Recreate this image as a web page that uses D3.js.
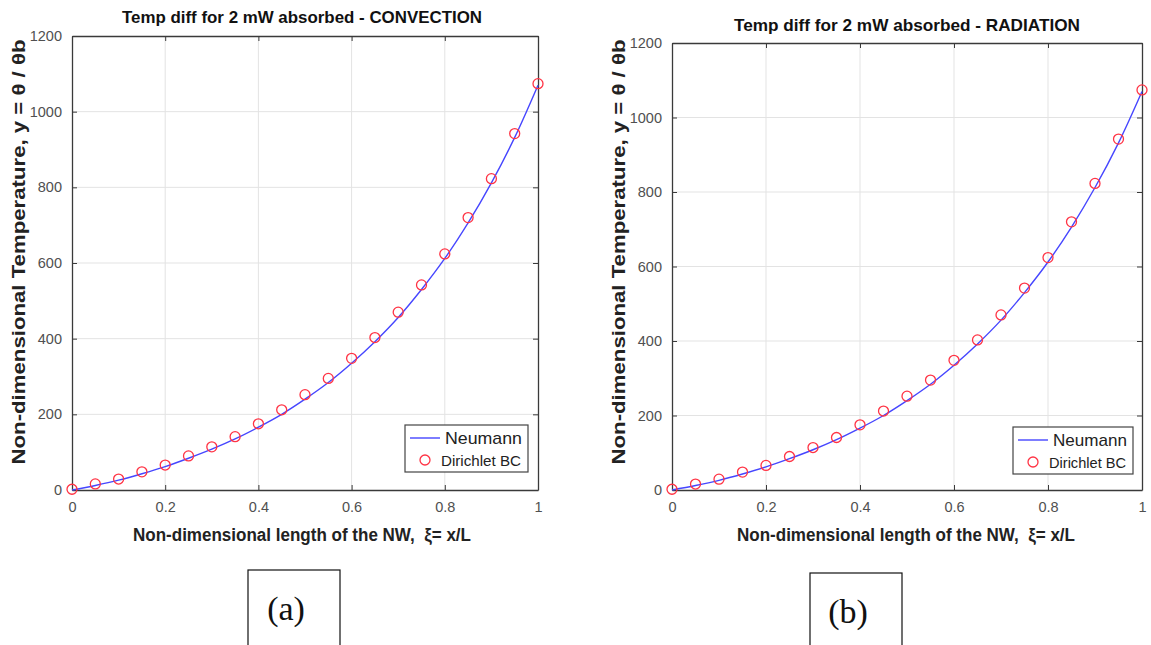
<!DOCTYPE html>
<html>
<head>
<meta charset="utf-8">
<script src="https://cdn.jsdelivr.net/npm/d3@7"></script>
<style>
  body { margin: 0; background: #fff; }
  svg text { font-family: "Liberation Sans Narrow", "Liberation Sans", Arial, sans-serif; }
</style>
</head>
<body>
<div id="chart"></div>
<script>
// x positions, xi = x/L
var xi = [0, 0.05, 0.1, 0.15, 0.2, 0.25, 0.3, 0.35, 0.4, 0.45, 0.5,
          0.55, 0.6, 0.65, 0.7, 0.75, 0.8, 0.85, 0.9, 0.95, 1];
// Neumann solution (line)
var neumann = [0, 12, 26, 43, 62, 84, 108, 135, 166, 200, 240,
               284, 335, 392, 456, 530, 612, 706, 812, 932, 1070];
// Dirichlet BC (circles)
var dirichlet = [2, 16, 29, 48, 66, 90, 114, 141, 175, 212, 252,
                 295, 348, 403, 470, 542, 624, 720, 823, 942, 1074];
var xTicks = [0, 0.2, 0.4, 0.6, 0.8, 1];
var yTicks = [0, 200, 400, 600, 800, 1000, 1200];
var titles = ["Temp diff for 2 mW absorbed - CONVECTION", "Temp diff for 2 mW absorbed - RADIATION"];
var xLabel = "Non-dimensional length of the NW,  ξ= x/L";
var yLabel = "Non-dimensional Temperature, y = θ / θb";
var panelLabels = ["(a)", "(b)"];

var svg = d3.select("#chart").append("svg")
  .attr("width", 1151).attr("height", 645);

function drawPanel(p) {
  var x = d3.scaleLinear().domain([0, 1]).range([p.left, p.right]);
  var y = d3.scaleLinear().domain([0, 1200]).range([p.bottom, p.top]);
  var g = svg.append("g");

  // grid
  g.selectAll(".gx").data(xTicks.slice(1, -1)).enter().append("line")
    .attr("x1", d => x(d)).attr("x2", d => x(d))
    .attr("y1", p.top).attr("y2", p.bottom)
    .style("stroke", "#e3e3e3").style("stroke-width", 1);
  g.selectAll(".gy").data(yTicks.slice(1, -1)).enter().append("line")
    .attr("x1", p.left).attr("x2", p.right)
    .attr("y1", d => y(d)).attr("y2", d => y(d))
    .style("stroke", "#e3e3e3").style("stroke-width", 1);

  // axes (ticks inward, box on)
  var axB = g.append("g").attr("transform", "translate(0," + p.bottom + ")")
    .call(d3.axisBottom(x).tickValues(xTicks).tickSizeInner(-5).tickSizeOuter(0).tickPadding(12)
      .tickFormat(d => String(d)));
  var axT = g.append("g").attr("transform", "translate(0," + p.top + ")")
    .call(d3.axisTop(x).tickValues(xTicks).tickSizeInner(-5).tickSizeOuter(0).tickFormat(""));
  var axL = g.append("g").attr("transform", "translate(" + p.left + ",0)")
    .call(d3.axisLeft(y).tickValues(yTicks).tickSizeInner(-5).tickSizeOuter(0).tickPadding(10)
      .tickFormat(d => String(d)));
  var axR = g.append("g").attr("transform", "translate(" + p.right + ",0)")
    .call(d3.axisRight(y).tickValues(yTicks).tickSizeInner(-5).tickSizeOuter(0).tickFormat(""));
  [axB, axT, axL, axR].forEach(function(a) {
    a.select(".domain").style("stroke", "#3a3a3a").style("stroke-width", 1.3);
    a.selectAll(".tick line").style("stroke", "#3a3a3a");
    a.selectAll("text").style("fill", "#505050").style("font-size", "14.5px")
      .style("font-family", "'Liberation Sans Narrow', 'Liberation Sans', Arial, sans-serif");
  });

  // line
  var line = d3.line().x((d, i) => x(xi[i])).y(d => y(d)).curve(d3.curveCatmullRom);
  g.append("path").datum(neumann).attr("d", line)
    .style("fill", "none").style("stroke", "#4646ff").style("stroke-width", 1.4);

  // circles
  g.selectAll(".pt").data(dirichlet).enter().append("circle")
    .attr("cx", (d, i) => x(xi[i])).attr("cy", d => y(d)).attr("r", 5)
    .style("fill", "none").style("stroke", "#ff3344").style("stroke-width", 1.3);

  // title
  g.append("text").attr("x", p.titleX).attr("y", p.titleY).attr("text-anchor", "middle")
    .style("font-weight", "bold").style("font-size", "17px").style("fill", "#111")
    .attr("textLength", p.titleLen).attr("lengthAdjust", "spacingAndGlyphs")
    .text(p.title);

  // x label
  g.append("text").attr("x", p.xlabX).attr("y", 541).attr("text-anchor", "middle")
    .attr("textLength", p.xlabLen).attr("lengthAdjust", "spacingAndGlyphs")
    .attr("xml:space", "preserve")
    .style("font-weight", "bold").style("font-size", "18px").style("fill", "#222")
    .style("white-space", "pre")
    .text(xLabel);

  // y label
  g.append("text")
    .attr("transform", "translate(" + p.ylabX + ",252) rotate(-90)")
    .attr("text-anchor", "middle")
    .attr("textLength", 425).attr("lengthAdjust", "spacingAndGlyphs")
    .style("font-weight", "bold").style("font-size", "18px").style("fill", "#222")
    .text(yLabel);

  // legend
  var lg = g.append("g").attr("transform", "translate(" + p.legX + "," + p.legY + ")");
  lg.append("rect").attr("width", p.legW).attr("height", 47)
    .style("fill", "#fff").style("stroke", "#444").style("stroke-width", 1.2);
  lg.append("line").attr("x1", 5).attr("x2", 35).attr("y1", 13).attr("y2", 13)
    .style("stroke", "#4646ff").style("stroke-width", 1.4);
  lg.append("text").attr("x", 40).attr("y", 19).text("Neumann")
    .attr("textLength", p.legW - 46).attr("lengthAdjust", "spacingAndGlyphs")
    .style("font-size", "17px").style("fill", "#222");
  lg.append("circle").attr("cx", 20).attr("cy", 35).attr("r", 5)
    .style("fill", "none").style("stroke", "#ff3344").style("stroke-width", 1.3);
  lg.append("text").attr("x", 36).attr("y", 41).text("Dirichlet BC")
    .attr("textLength", p.legW - 43).attr("lengthAdjust", "spacingAndGlyphs")
    .style("font-size", "14px").style("fill", "#222");

  // panel label box
  svg.append("rect").attr("x", p.boxX).attr("y", p.boxY).attr("width", 92).attr("height", 90)
    .style("fill", "none").style("stroke", "#111").style("stroke-width", 1.2);
  svg.append("text").attr("x", p.boxX + 38).attr("y", p.boxY + 50).attr("text-anchor", "middle")
    .style("font-family", "'Liberation Serif', 'Times New Roman', serif").style("font-size", "34px")
    .style("fill", "#111").text(p.label);
}

drawPanel({ left: 72, right: 538, top: 36, bottom: 490, title: titles[0],
  titleX: 302, titleY: 23, titleLen: 360, xlabX: 302, xlabLen: 338, ylabX: 25,
  legX: 405, legY: 425, legW: 123, boxX: 248, boxY: 570, label: panelLabels[0] });
drawPanel({ left: 672, right: 1142, top: 43, bottom: 490, title: titles[1],
  titleX: 907, titleY: 31, titleLen: 346, xlabX: 906, xlabLen: 338, ylabX: 625,
  legX: 1013, legY: 427, legW: 120, boxX: 810, boxY: 573, label: panelLabels[1] });
</script>
</body>
</html>
